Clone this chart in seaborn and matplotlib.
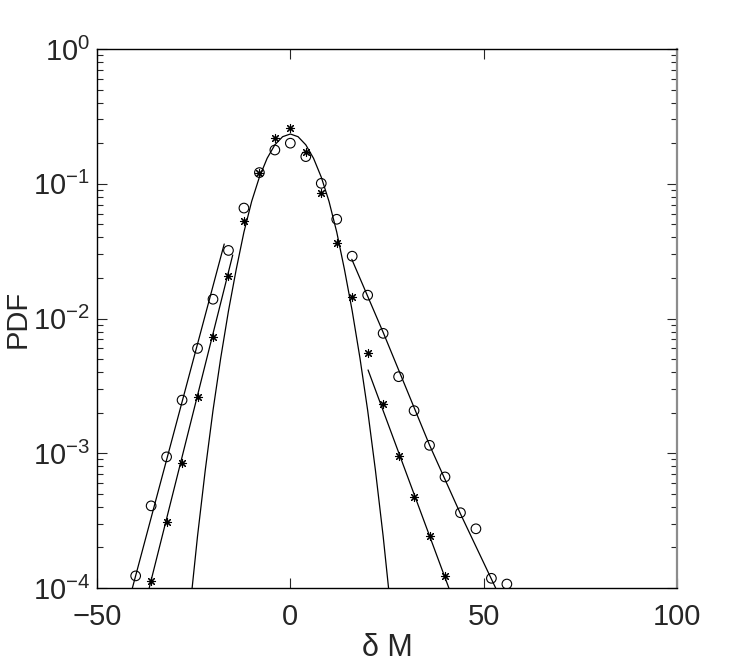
import numpy as np
import pandas as pd
import matplotlib
matplotlib.use("Agg")
import matplotlib.pyplot as plt
import seaborn as sns

# ---- data ----
circ_x = [-40, -36, -32, -28, -24, -20, -16, -12, -8, -4, 0, 4, 8, 12, 16,
          20, 24, 28, 32, 36, 40, 44, 48, 52, 56]
circ_y = [1.23e-4, 4.07e-4, 9.4e-4, 2.48e-3, 6.0e-3, 1.39e-2, 3.2e-2, 6.6e-2,
          0.121, 0.178, 0.200, 0.159, 0.1007, 0.0545, 0.029,
          1.49e-2, 7.76e-3, 3.7e-3, 2.07e-3, 1.145e-3, 6.67e-4, 3.62e-4,
          2.75e-4, 1.18e-4, 1.07e-4]

star_x = [-36, -32, -28, -24, -20, -16, -12, -8, -4, 0, 4, 8, 12, 16,
          20, 24, 28, 32, 36, 40]
star_y = [1.13e-4, 3.1e-4, 8.5e-4, 2.6e-3, 7.25e-3, 2.07e-2, 5.32e-2, 0.121,
          0.220, 0.258, 0.173, 0.085, 0.0361, 0.0144,
          5.57e-3, 2.32e-3, 9.6e-4, 4.71e-4, 2.43e-4, 1.23e-4]

# central fit curve
fit_x = [-25.4, -24, -22, -20, -18, -16, -14, -12, -10, -8, -6, -4, -2, 0,
         2, 4, 6, 8, 10, 12, 14, 16, 18, 20, 22, 24, 25.4]
fit_y = [1.0e-4, 2.43e-4, 7.5e-4, 2.08e-3, 5.1e-3, 1.138e-2, 2.31e-2, 4.38e-2,
         7.40e-2, 0.112, 0.1545, 0.1945, 0.2234, 0.234,
         0.2234, 0.1945, 0.1545, 0.112, 7.40e-2, 4.38e-2, 2.31e-2, 1.138e-2,
         5.1e-3, 2.08e-3, 7.5e-4, 2.43e-4, 1.0e-4]

# tail lines
lc_x = [-40.85, -17.1]
lc_y = [1.0e-4, 3.57e-2]
ls_x = [-36.5, -14.9]
ls_y = [1.0e-4, 2.96e-2]
rc_x = [15.9, 24, 36, 44, 53.1]
rc_y = [2.75e-2, 7.9e-3, 1.15e-3, 3.55e-4, 1.0e-4]
rs_x = [20.1, 41.0]
rs_y = [4.15e-3, 1.0e-4]

xticks = [-50, 0, 50, 100]
xticklabels = ["\u221250", "0", "50", "100"]

# ---- plotting ----
sns.set_style("ticks")
plt.rcParams["font.family"] = ["Liberation Sans", "DejaVu Sans"]
plt.rcParams["mathtext.fontset"] = "custom"
plt.rcParams["mathtext.rm"] = "Liberation Sans"
plt.rcParams["mathtext.it"] = "Liberation Sans:italic"

fig = plt.figure(figsize=(7.47, 6.64), dpi=100)
ax = fig.add_axes([97/747, 1 - 588/664, (677-97)/747, (588-49)/664])

def line(xs, ys):
    df = pd.DataFrame({"x": xs, "y": ys})
    sns.lineplot(data=df, x="x", y="y", ax=ax, color="black", linewidth=0.9,
                 sort=False, estimator=None)

line(fit_x, fit_y)
line(lc_x, lc_y)
line(ls_x, ls_y)
line(rc_x, rc_y)
line(rs_x, rs_y)

dfc = pd.DataFrame({"x": circ_x, "y": circ_y})
sns.scatterplot(data=dfc, x="x", y="y", ax=ax, marker="o", s=48,
                facecolors="none", edgecolor="black", linewidth=0.8, zorder=3)
dfs = pd.DataFrame({"x": star_x, "y": star_y})
sns.scatterplot(data=dfs, x="x", y="y", ax=ax, marker=(8, 2, 0), s=34,
                color="black", linewidth=0.8, zorder=3)

ax.set_yscale("log")
ax.set_xlim(-50, 100)
ax.set_ylim(1e-4, 1)
ax.set_xticks(xticks)
ax.set_xticklabels(xticklabels)

ax.tick_params(axis="both", which="both", direction="in", top=True, right=True,
               labelsize=21)
ax.tick_params(axis="both", which="major", length=7, width=0.8, pad=5)
ax.tick_params(axis="x", which="major", pad=11)
ax.tick_params(axis="y", which="minor", length=4, width=0.8)
for s in ["left", "bottom", "top"]:
    ax.spines[s].set_color("black")
    ax.spines[s].set_linewidth(1.0)
ax.spines["right"].set_color("#8c8c8c")
ax.spines["right"].set_linewidth(1.6)

ax.set_xlabel("\u03b4 M", fontsize=22, labelpad=1)
ax.set_ylabel("PDF", fontsize=21)
ax.yaxis.set_label_coords(-0.112, 0.5)

fig.savefig("out.png", dpi=100)
